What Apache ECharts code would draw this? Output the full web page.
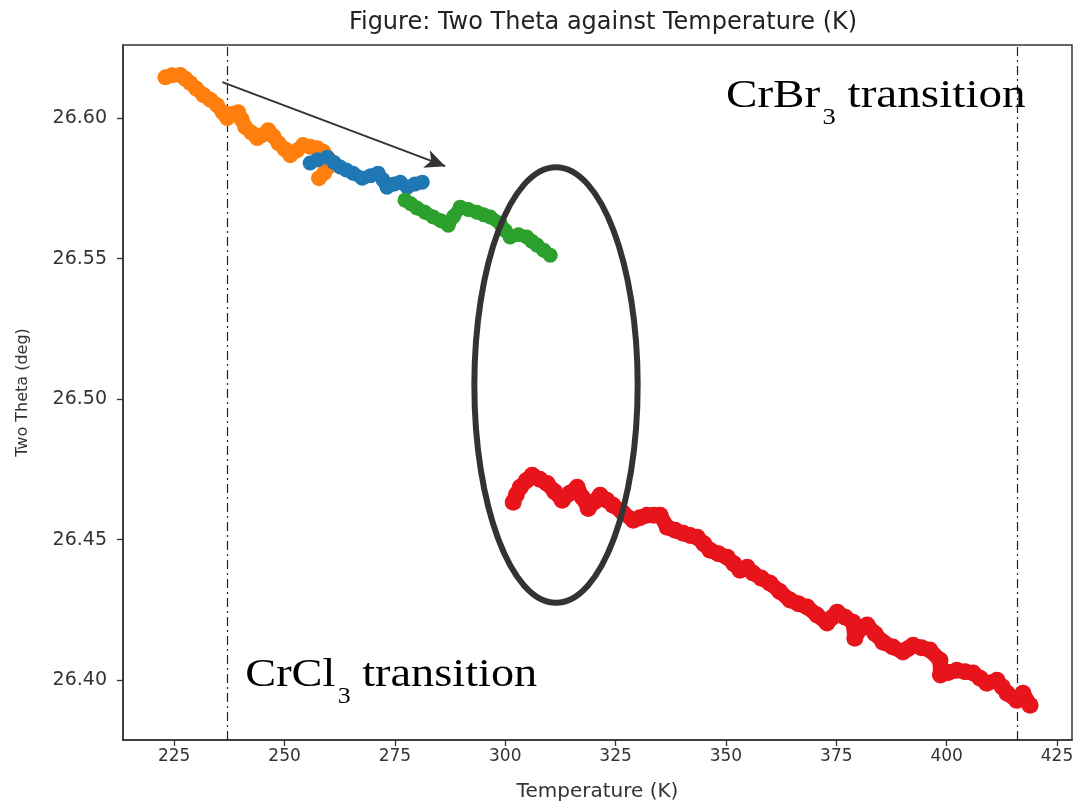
<!DOCTYPE html>
<html>
<head>
<meta charset="utf-8">
<script src="https://cdn.jsdelivr.net/npm/echarts@6/dist/echarts.min.js"></script>
<style>
  html, body { margin: 0; padding: 0; background: #ffffff; }
  #chart { width: 1089px; height: 808px; }
</style>
</head>
<body>
<div id="chart"></div>
<script>
// ---- Data ----
const temperatureTicks = [225, 250, 275, 300, 325, 350, 375, 400, 425];
const thetaTicks = [26.40, 26.45, 26.50, 26.55, 26.60];

const orangeRun = [
  [223.0, 26.6145], [224.5, 26.6152], [226.4, 26.6153], [227.5, 26.6140], [228.6, 26.6125],
  [230.0, 26.6105], [231.6, 26.6082], [233.2, 26.6065], [234.7, 26.6046], [236.0, 26.6020],
  [237.0, 26.6000], [238.2, 26.6015], [239.5, 26.6021], [240.3, 26.5995], [241.1, 26.5968],
  [242.5, 26.5948], [243.8, 26.5929], [245.0, 26.5940], [246.3, 26.5957], [247.5, 26.5935],
  [248.6, 26.5911], [250.0, 26.5890], [251.3, 26.5868], [252.8, 26.5885], [254.2, 26.5904],
  [255.8, 26.5898], [257.4, 26.5893], [258.8, 26.5880], [259.9, 26.5855], [260.2, 26.5830],
  [259.0, 26.5805], [257.8, 26.5786]
];

const blueRun = [
  [255.8, 26.5840], [257.5, 26.5852], [259.7, 26.5861], [261.2, 26.5842], [262.6, 26.5826],
  [264.0, 26.5815], [265.5, 26.5804], [267.6, 26.5786], [269.5, 26.5795], [271.2, 26.5804],
  [272.3, 26.5780], [273.2, 26.5754], [274.8, 26.5765], [276.2, 26.5772], [277.8, 26.5754],
  [279.5, 26.5765], [281.2, 26.5772]
];

const greenRun = [
  [277.3, 26.5708], [278.6, 26.5695], [280.0, 26.5680], [281.8, 26.5665], [283.7, 26.5648],
  [285.4, 26.5635], [287.1, 26.5619], [288.3, 26.5650], [289.8, 26.5683], [291.6, 26.5675],
  [293.6, 26.5665], [295.1, 26.5656], [296.6, 26.5648], [298.8, 26.5626], [300.0, 26.5600],
  [301.1, 26.5577], [303.0, 26.5585], [304.9, 26.5577], [306.0, 26.5562], [307.2, 26.5548],
  [308.7, 26.5530], [310.2, 26.5512]
];

const redRun = [
  [301.8, 26.4633], [302.5, 26.4660], [303.4, 26.4686], [304.8, 26.4710], [306.1, 26.4729],
  [307.8, 26.4715], [309.5, 26.4700], [311.2, 26.4670], [312.9, 26.4640], [314.6, 26.4665],
  [316.3, 26.4686], [317.5, 26.4650], [318.8, 26.4611], [320.2, 26.4635], [321.5, 26.4658],
  [323.0, 26.4640], [324.4, 26.4622], [326.7, 26.4595], [329.0, 26.4569], [330.5, 26.4578],
  [332.1, 26.4587], [333.6, 26.4587], [335.1, 26.4587], [336.7, 26.4544], [338.5, 26.4533],
  [340.3, 26.4523], [341.9, 26.4515], [343.5, 26.4508], [345.0, 26.4485], [346.4, 26.4462],
  [348.3, 26.4450], [350.3, 26.4437], [351.8, 26.4414], [353.2, 26.4391], [354.8, 26.4402],
  [356.1, 26.4381], [358.0, 26.4363], [360.0, 26.4345], [362.2, 26.4315], [364.5, 26.4285],
  [366.4, 26.4272], [368.4, 26.4260], [370.6, 26.4232], [372.9, 26.4203], [374.0, 26.4222],
  [375.2, 26.4242], [377.0, 26.4224], [378.8, 26.4206], [379.2, 26.4149], [380.0, 26.4175],
  [382.0, 26.4196], [383.8, 26.4165], [385.6, 26.4135], [387.8, 26.4118], [390.1, 26.4100],
  [391.2, 26.4112], [392.4, 26.4124], [394.3, 26.4115], [396.2, 26.4107], [398.5, 26.4071],
  [398.6, 26.4018], [400.4, 26.4027], [402.3, 26.4035], [404.2, 26.4030], [406.0, 26.4025],
  [407.6, 26.4007], [409.1, 26.3989], [411.4, 26.4000], [412.6, 26.3976], [413.7, 26.3953],
  [415.9, 26.3928], [417.3, 26.3953], [418.9, 26.3911]
];

// transition markers (temperatures, K)
const transitionTemps = [237.0, 416.0];
// arrow start / end in data units
const arrowFrom = [235.9, 26.6128];
const arrowTo = [286.4, 26.5829];
// ellipse centre and radii in data units
const ellipseCenter = [311.5, 26.505];
const ellipseRadii = [18.5, 0.0775];
// annotation anchors (left edge, top of text box) in data units
const crbrAnchor = [350.0, 26.6160];
const crclAnchor = [241.1, 26.4101];

// ---- Chart ----
const chart = echarts.init(document.getElementById('chart'), null, { renderer: 'canvas' });

const axisColor = '#333333';
const baseFont = 'DejaVu Sans';

function runSeries(name, data, color, w) {
  return {
    name: name,
    type: 'line',
    data: data,
    symbol: 'circle',
    symbolSize: w + 2,
    showSymbol: true,
    lineStyle: { color: color, width: w, cap: 'round', join: 'round' },
    itemStyle: { color: color },
    emphasis: { disabled: true },
    silent: true,
    animation: false,
    z: 3
  };
}

const series = [
  runSeries('orange', orangeRun, '#ff7f0e', 14),
  runSeries('blue', blueRun, '#1f77b4', 13),
  runSeries('green', greenRun, '#2ca02c', 13),
  runSeries('red', redRun, '#e8141b', 15),
  {
    name: 'guides',
    type: 'line',
    data: [],
    silent: true,
    animation: false,
    markLine: {
      silent: true,
      animation: false,
      symbol: ['none', 'none'],
      label: { show: false },
      lineStyle: { color: '#222', width: 1.2, type: [9, 4, 2, 4] },
      data: transitionTemps.map(t => ({ xAxis: t })),
      z: 2
    },
    z: 2
  },
  {
    name: 'arrow',
    type: 'line',
    data: [],
    silent: true,
    animation: false,
    markLine: {
      silent: true,
      animation: false,
      symbol: ['none', 'arrow'],
      symbolSize: [14, 20],
      label: { show: false },
      lineStyle: { color: '#333', width: 2, type: 'solid' },
      data: [[{ coord: arrowFrom }, { coord: arrowTo }]],
      z: 5
    },
    z: 5
  }
];

const option = {
  backgroundColor: '#ffffff',
  animation: false,
  title: {
    text: 'Figure: Two Theta against Temperature (K)',
    left: 598,
    top: 6,
    textAlign: 'center',
    textStyle: { fontFamily: baseFont, fontSize: 24, fontWeight: 'normal', color: '#222' }
  },
  grid: {
    left: 123, right: 17, top: 45, bottom: 68,
    outerBoundsMode: 'none',
    containLabel: false,
    show: true, borderColor: axisColor, borderWidth: 1.5, backgroundColor: 'transparent'
  },
  xAxis: {
    type: 'value',
    min: 213.4,
    max: 428.4,
    name: 'Temperature (K)',
    nameLocation: 'middle',
    nameGap: 42,
    nameTextStyle: { fontFamily: baseFont, fontSize: 20, color: '#333' },
    axisLine: { show: true, onZero: false, lineStyle: { color: axisColor, width: 1.5 } },
    axisTick: { show: true, customValues: temperatureTicks, length: 6, lineStyle: { color: axisColor, width: 1.3 } },
    axisLabel: { customValues: temperatureTicks, fontFamily: baseFont, fontSize: 17, color: '#333', margin: 8 },
    splitLine: { show: false }
  },
  yAxis: {
    type: 'value',
    min: 26.3787,
    max: 26.626,
    name: 'Two Theta (deg)',
    nameLocation: 'middle',
    nameRotate: 90,
    nameGap: 92,
    nameTextStyle: { fontFamily: baseFont, fontSize: 16, color: '#333' },
    axisLine: { show: true, onZero: false, lineStyle: { color: axisColor, width: 1.5 } },
    axisTick: { show: true, customValues: thetaTicks, length: 6, lineStyle: { color: axisColor, width: 1.3 } },
    axisLabel: {
      customValues: thetaTicks, fontFamily: baseFont, fontSize: 19, color: '#333', margin: 16,
      formatter: v => v.toFixed(2)
    },
    splitLine: { show: false }
  },
  series: series
};

chart.setOption(option);

// ---- Annotations placed through the grid's coordinate system ----
function px(p) { return chart.convertToPixel({ gridIndex: 0 }, p); }

const c = px(ellipseCenter);
const edge = px([ellipseCenter[0] + ellipseRadii[0], ellipseCenter[1] + ellipseRadii[1]]);
const rx = Math.abs(edge[0] - c[0]);
const ry = Math.abs(edge[1] - c[1]);
const a1 = px(crbrAnchor);
const a2 = px(crclAnchor);

const serif = 'Liberation Serif';
const rich = {
  m: { fontFamily: serif, fontSize: 41, color: '#111', lineHeight: 46 },
  s: { fontFamily: serif, fontSize: 23, color: '#111', padding: [44, 0, 0, 2], lineHeight: 46 }
};

chart.setOption({
  graphic: [
    {
      type: 'ellipse',
      silent: true,
      shape: { cx: c[0], cy: c[1], rx: rx, ry: ry },
      style: { fill: 'none', stroke: '#333', lineWidth: 6 },
      z: 10
    },
    {
      type: 'text',
      silent: true,
      x: a1[0], y: a1[1],
      scaleX: 1.15,
      style: { text: '{m|CrBr}{s|3}{m| transition}', rich: rich, verticalAlign: 'top', align: 'left' },
      z: 10
    },
    {
      type: 'text',
      silent: true,
      x: a2[0], y: a2[1],
      scaleX: 1.13,
      style: { text: '{m|CrCl}{s|3}{m| transition}', rich: rich, verticalAlign: 'top', align: 'left' },
      z: 10
    }
  ]
});
</script>
</body>
</html>
